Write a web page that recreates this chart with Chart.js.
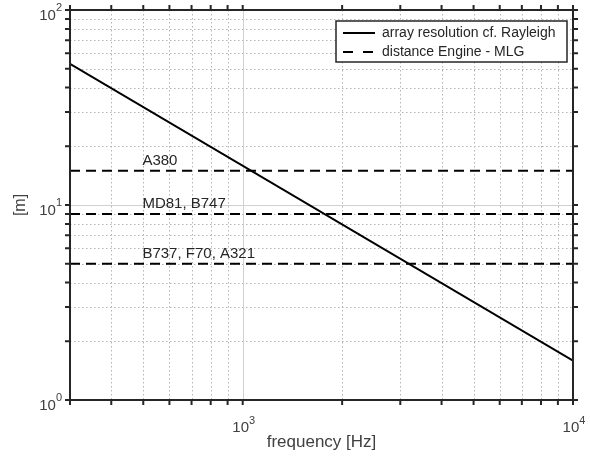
<!DOCTYPE html>
<html><head><meta charset="utf-8">
<script src="https://cdn.jsdelivr.net/npm/chart.js@4.4.0/dist/chart.umd.min.js"></script>
<style>html,body{margin:0;padding:0;background:#fff}#wrap{width:590px;height:461px;position:relative}</style>
</head><body><div id="wrap"><canvas id="c"></canvas></div>
<script>
// ---- data ----
const freqs = [300, 10000];
const resolution = [53, 1.59];
const distances = [15, 9, 5];
const aircraftLabels = ['A380', 'MD81, B747', 'B737, F70, A321'];
const aircraftLabelFreq = 497;
const xRange = [300, 10000];
const yRange = [1, 100];
const xTickValues = [1000, 10000];
const xTickBase = ['10', '10'];
const xTickExp = ['3', '4'];
const yTickValues = [1, 10, 100];
const yTickBase = ['10', '10', '10'];
const yTickExp = ['0', '1', '2'];
const seriesNames = ['array resolution cf. Rayleigh', 'distance Engine - MLG'];
const xTitle = 'frequency [Hz]';
const yTitle = '[m]';

const FONT = "'Liberation Sans', Arial, Helvetica, sans-serif";
const TXT = '#404040';

const datasets = [{
  label: seriesNames[0],
  data: freqs.map((f, i) => ({x: f, y: resolution[i]})),
  borderColor: '#000', borderWidth: 2, pointRadius: 0, fill: false, tension: 0
}];
distances.forEach((d, i) => {
  datasets.push({
    label: i === 0 ? seriesNames[1] : seriesNames[1] + ' ' + aircraftLabels[i],
    data: xRange.map(f => ({x: f, y: d})),
    borderColor: '#000', borderWidth: 2, borderDash: [10, 6], pointRadius: 0, fill: false, tension: 0
  });
});

function minorValues(lo, hi) {
  const out = [];
  for (let e = Math.floor(Math.log10(lo)); e <= Math.ceil(Math.log10(hi)); e++) {
    for (let m = 1; m <= 9; m++) {
      const v = m * Math.pow(10, e);
      if (v >= lo - 1e-9 && v <= hi + 1e-9) out.push({v, major: m === 1});
    }
  }
  return out;
}

const customPlugin = {
  id: 'matlabStyle',
  beforeDatasetsDraw(chart) {
    const {ctx, chartArea: a, scales: {x, y}} = chart;
    ctx.save();
    ctx.lineWidth = 1;
    ctx.strokeStyle = '#b4b4b4';
    ctx.setLineDash([1.5, 2.5]);
    minorValues(xRange[0], xRange[1]).forEach(t => {
      if (t.major) return;
      const px = Math.round(x.getPixelForValue(t.v)) + 0.5;
      ctx.beginPath(); ctx.moveTo(px, a.top); ctx.lineTo(px, a.bottom); ctx.stroke();
    });
    minorValues(yRange[0], yRange[1]).forEach(t => {
      if (t.major) return;
      const py = Math.round(y.getPixelForValue(t.v)) + 0.5;
      ctx.beginPath(); ctx.moveTo(a.left, py); ctx.lineTo(a.right, py); ctx.stroke();
    });
    ctx.setLineDash([]);
    ctx.strokeStyle = '#d0d0d0';
    minorValues(xRange[0], xRange[1]).forEach(t => {
      if (!t.major) return;
      const px = Math.round(x.getPixelForValue(t.v)) + 0.5;
      ctx.beginPath(); ctx.moveTo(px, a.top); ctx.lineTo(px, a.bottom); ctx.stroke();
    });
    minorValues(yRange[0], yRange[1]).forEach(t => {
      if (!t.major) return;
      const py = Math.round(y.getPixelForValue(t.v)) + 0.5;
      ctx.beginPath(); ctx.moveTo(a.left, py); ctx.lineTo(a.right, py); ctx.stroke();
    });
    ctx.restore();
  },
  afterDatasetsDraw(chart) {
    const {ctx, chartArea: a, scales: {x, y}} = chart;
    ctx.save();
    // aircraft labels
    ctx.font = '15px ' + FONT;
    ctx.fillStyle = '#262626';
    ctx.textAlign = 'left';
    ctx.textBaseline = 'alphabetic';
    distances.forEach((d, i) => {
      ctx.fillText(aircraftLabels[i], x.getPixelForValue(aircraftLabelFreq), y.getPixelForValue(d) - 6);
    });
    // axes box
    ctx.strokeStyle = '#262626';
    ctx.lineWidth = 2;
    ctx.strokeRect(a.left, a.top, a.right - a.left, a.bottom - a.top);
    // ticks outward
    minorValues(xRange[0], xRange[1]).forEach(t => {
      const px = x.getPixelForValue(t.v);
      const L = 5;
      ctx.beginPath();
      ctx.moveTo(px, a.bottom); ctx.lineTo(px, a.bottom + L);
      ctx.moveTo(px, a.top); ctx.lineTo(px, a.top - L);
      ctx.stroke();
    });
    minorValues(yRange[0], yRange[1]).forEach(t => {
      const py = y.getPixelForValue(t.v);
      const L = 5;
      ctx.beginPath();
      ctx.moveTo(a.left, py); ctx.lineTo(a.left - L, py);
      ctx.moveTo(a.right, py); ctx.lineTo(a.right + L, py);
      ctx.stroke();
    });
    // tick labels with superscript exponents
    const baseFont = '15px ' + FONT, expFont = '11px ' + FONT;
    ctx.fillStyle = TXT;
    ctx.textBaseline = 'alphabetic';
    xTickValues.forEach((v, i) => {
      const px = x.getPixelForValue(v);
      ctx.font = baseFont;
      const wb = ctx.measureText(xTickBase[i]).width;
      ctx.font = expFont;
      const we = ctx.measureText(xTickExp[i]).width;
      const x0 = px - (wb + we) / 2 + 1;
      ctx.font = baseFont; ctx.textAlign = 'left';
      ctx.fillText(xTickBase[i], x0, a.bottom + 32);
      ctx.font = expFont;
      ctx.fillText(xTickExp[i], x0 + wb, a.bottom + 24);
    });
    yTickValues.forEach((v, i) => {
      const py = y.getPixelForValue(v);
      ctx.font = expFont;
      const we = ctx.measureText(yTickExp[i]).width;
      ctx.textAlign = 'right';
      ctx.fillText(yTickExp[i], 62, py + 1);
      ctx.font = baseFont;
      ctx.fillText(yTickBase[i], 62 - we, py + 10);
    });
    // legend
    const bx = 336, by = 21, bw = 231, bh = 41;
    ctx.fillStyle = '#fff';
    ctx.fillRect(bx, by, bw, bh);
    ctx.strokeStyle = '#262626';
    ctx.lineWidth = 1.5;
    ctx.strokeRect(bx, by, bw, bh);
    ctx.strokeStyle = '#000';
    ctx.lineWidth = 2;
    ctx.beginPath(); ctx.moveTo(343, 33); ctx.lineTo(375, 33); ctx.stroke();
    ctx.setLineDash([10, 10]);
    ctx.beginPath(); ctx.moveTo(343, 52); ctx.lineTo(375, 52); ctx.stroke();
    ctx.setLineDash([]);
    ctx.font = '14px ' + FONT;
    ctx.fillStyle = '#262626';
    ctx.textAlign = 'left';
    ctx.textBaseline = 'middle';
    ctx.fillText(seriesNames[0], 382, 33);
    ctx.fillText(seriesNames[1], 382, 52);
    ctx.restore();
  }
};

new Chart(document.getElementById('c'), {
  type: 'line',
  data: {datasets},
  options: {
    responsive: true, maintainAspectRatio: false, animation: false,
    layout: {padding: {top: 10, right: 17, left: 0, bottom: 0}},
    plugins: {legend: {display: false}, tooltip: {enabled: false}},
    scales: {
      x: {
        type: 'logarithmic', min: xRange[0], max: xRange[1],
        afterBuildTicks: s => { s.ticks = xTickValues.map(v => ({value: v})); },
        afterFit: s => { s.height = 61; },
        ticks: {display: false},
        grid: {display: false},
        border: {display: false},
        title: {display: true, text: xTitle, font: {family: FONT, size: 17}, color: TXT, padding: {top: 0, bottom: 8}}
      },
      y: {
        type: 'logarithmic', min: yRange[0], max: yRange[1],
        afterBuildTicks: s => { s.ticks = yTickValues.map(v => ({value: v})); },
        afterFit: s => { s.width = 70; },
        ticks: {display: false},
        grid: {display: false},
        border: {display: false},
        title: {display: true, text: yTitle, font: {family: FONT, size: 16}, color: TXT, padding: {top: 11, bottom: 0}}
      }
    }
  },
  plugins: [customPlugin]
});
</script>
</body></html>
